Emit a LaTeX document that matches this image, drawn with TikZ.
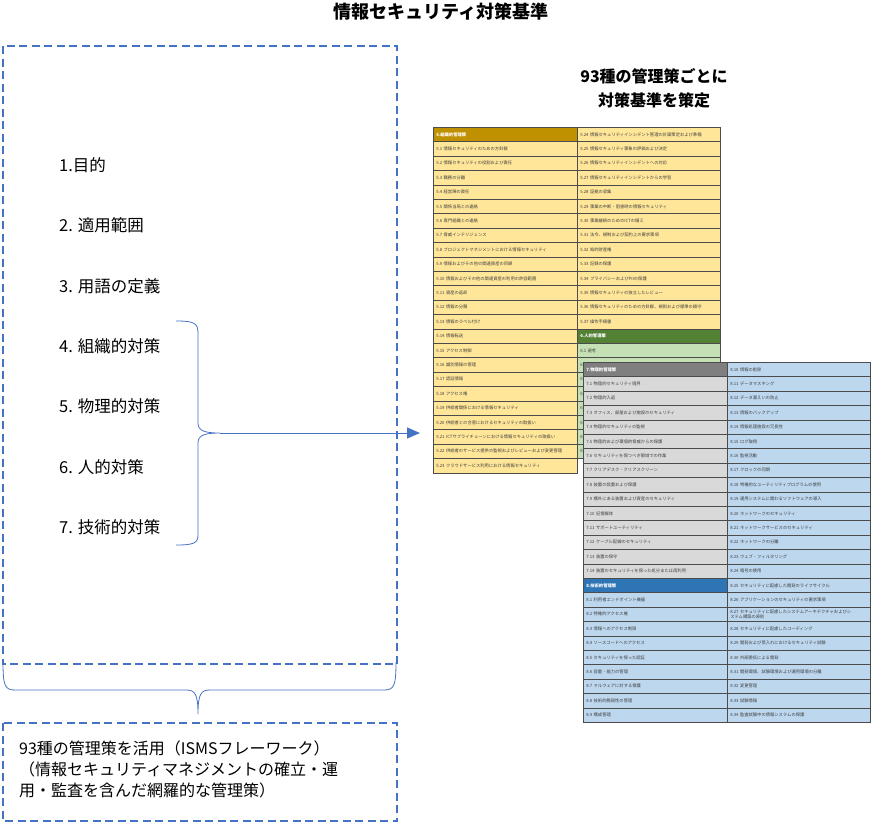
\documentclass[tikz,border=0pt]{standalone}
\usepackage{fontspec}
\setmainfont{Noto Sans CJK JP}
\usepackage{xcolor}
\usetikzlibrary{arrows.meta}

\definecolor{boxblue}{HTML}{4472C4}
\definecolor{goldhead}{HTML}{BF9000}
\definecolor{yellowcell}{HTML}{FFE699}
\definecolor{greenhead}{HTML}{548235}
\definecolor{greencell}{HTML}{C5E0B4}
\definecolor{greyhead}{HTML}{7F7F7F}
\definecolor{greycell}{HTML}{D9D9D9}
\definecolor{bluehead}{HTML}{2E75B6}
\definecolor{bluecell}{HTML}{BDD7EE}

\tikzset{
  dashbox/.style={draw=boxblue, line width=2pt, dash pattern=on 8pt off 4.5pt},
  braceline/.style={draw=boxblue, line width=0.8pt},
  item/.style={anchor=west, inner sep=0pt, font=\fontsize{16.5}{20}\selectfont},
  cellA/.style={draw=black!70, line width=0.5pt, anchor=north west,
    minimum height=14.4pt, inner xsep=3pt, inner ysep=0pt,
    text width=138pt, align=left, text=black!75,
    font=\fontsize{4.3}{5}\selectfont},
  cellB/.style={cellA, text width=137pt},
  headA/.style={cellA, text=white, font=\fontsize{4.3}{5}\bfseries\selectfont},
  headB/.style={cellB, text=white, font=\fontsize{4.3}{5}\bfseries\selectfont},
}

\begin{document}
\begin{tikzpicture}[x=1pt, y=-1pt]
    \useasboundingbox (0,0) rectangle (871,823);

    % 标题
    \node[font=\fontsize{18}{20}\bfseries\selectfont] (title) at (441,12) {情報セキュリティ対策基準};
    \node[font=\fontsize{16}{24}\bfseries\selectfont, align=center] (head) at (654,88)
        {93種の管理策ごとに\\対策基準を策定};

    % 左侧虚线框
    \draw[dashbox] (3,46) rectangle (397,664);
    \draw[dashbox] (3,723) rectangle (397,821);

    % 项目
    \node[item] (i1) at (59,165) {1.目的};
    \node[item] (i2) at (59,225) {2. 適用範囲};
    \node[item] (i3) at (59,286) {3. 用語の定義};
    \node[item] (i4) at (59,346) {4. 組織的対策};
    \node[item] (i5) at (59,406) {5. 物理的対策};
    \node[item] (i6) at (59,467) {6. 人的対策};
    \node[item] (i7) at (59,527) {7. 技術的対策};

    \node[anchor=north west, inner sep=0pt, align=left,
          font=\fontsize{16}{21}\selectfont] (isms) at (19,741)
        {93種の管理策を活用（ISMSフレーワーク）\\
         （情報セキュリティマネジメントの確立・運\\
         用・監査を含んだ網羅的な管理策）};

    % 表1：組織的管理策・人的管理策
    \node[headA, fill=goldhead] (o0) at (433,127) {5.組織的管理策};
    \foreach \t [count=\i] in {5.1 情報セキュリティのための方針群,
        5.2 情報セキュリティの役割および責任, 5.3 職務の分離, 5.4 経営陣の責任,
        5.5 関係当局との連絡, 5.6 専門組織との連絡, 5.7 脅威インテリジェンス,
        5.8 プロジェクトマネジメントにおける情報セキュリティ,
        5.9 情報およびその他の関連資産の目録,
        5.10 情報およびその他の関連資産の利用の許容範囲, 5.11 資産の返却,
        5.12 情報の分類, 5.13 情報のラベル付け, 5.14 情報転送, 5.15 アクセス制御,
        5.16 識別情報の管理, 5.17 認証情報, 5.18 アクセス権,
        5.19 供給者関係における情報セキュリティ,
        5.20 供給者との合意におけるセキュリティの取扱い,
        5.21 ICTサプライチェーンにおける情報セキュリティの取扱い,
        5.22 供給者のサービス提供の監視およびレビューおよび変更管理,
        5.23 クラウドサービス利用における情報セキュリティ}
        \node[cellA, fill=yellowcell] (o\i) at (433,{127+\i*14.4}) {\t};

    \foreach \t [count=\i from 0] in {5.24 情報セキュリティインシデント管理の計画策定および準備,
        5.25 情報セキュリティ事象の評価および決定, 5.26 情報セキュリティインシデントへの対応,
        5.27 情報セキュリティインシデントからの学習, 5.28 証拠の収集,
        5.29 事業の中断・阻害時の情報セキュリティ, 5.30 事業継続のためのICTの備え,
        5.31 法令、規制および契約上の要求事項, 5.32 知的財産権, 5.33 記録の保護,
        5.34 プライバシーおよびPIIの保護, 5.35 情報セキュリティの独立したレビュー,
        5.36 情報セキュリティのための方針群、規則および標準の順守, 5.37 操作手順書}
        \node[cellB, fill=yellowcell] (p\i) at (577,{127+\i*14.4}) {\t};
    \node[headB, fill=greenhead] (h0) at (577,{127+14*14.4}) {6.人的管理策};
    \foreach \t [count=\i] in {6.1 選考, 6.2 雇用条件, 6.3 情報セキュリティの意識向上、教育および訓練,
        6.4 懲戒手続, 6.5 雇用の終了または変更後の責任, 6.6 秘密保持契約または守秘義務契約,
        6.7 リモートワーク, 6.8 情報セキュリティ事象の報告}
        \node[cellB, fill=greencell] (h\i) at (577,{127+(14+\i)*14.4}) {\t};

    % 表2：物理的管理策・技術的管理策
    \node[headA, fill=greyhead] (f0) at (583,362) {7.物理的管理策};
    \foreach \t [count=\i] in {7.1 物理的セキュリティ境界, 7.2 物理的入退,
        7.3 オフィス、部屋および施設のセキュリティ, 7.4 物理的セキュリティの監視,
        7.5 物理的および環境的脅威からの保護, 7.6 セキュリティを保つべき領域での作業,
        7.7 クリアデスク・クリアスクリーン, 7.8 装置の設置および保護,
        7.9 構外にある装置および資産のセキュリティ, 7.10 記憶媒体,
        7.11 サポートユーティリティ, 7.12 ケーブル配線のセキュリティ, 7.13 装置の保守,
        7.14 装置のセキュリティを保った処分または再利用}
        \node[cellA, fill=greycell] (f\i) at (583,{362+\i*14.4}) {\t};
    \node[headA, fill=bluehead] (t0) at (583,{362+15*14.4}) {8.技術的管理策};
    \foreach \t [count=\i] in {8.1 利用者エンドポイント機器, 8.2 特権的アクセス権,
        8.3 情報へのアクセス制限, 8.4 ソースコードへのアクセス, 8.5 セキュリティを保った認証,
        8.6 容量・能力の管理, 8.7 マルウェアに対する保護, 8.8 技術的脆弱性の管理, 8.9 構成管理}
        \node[cellA, fill=bluecell] (t\i) at (583,{362+(15+\i)*14.4}) {\t};

    \foreach \t [count=\i from 0] in {8.10 情報の削除, 8.11 データマスキング,
        8.12 データ漏えいの防止, 8.13 情報のバックアップ, 8.14 情報処理施設の冗長性,
        8.15 ログ取得, 8.16 監視活動, 8.17 クロックの同期,
        8.18 特権的なユーティリティプログラムの使用,
        8.19 運用システムに関わるソフトウェアの導入, 8.20 ネットワークのセキュリティ,
        8.21 ネットワークサービスのセキュリティ, 8.22 ネットワークの分離,
        8.23 ウェブ・フィルタリング, 8.24 暗号の使用,
        8.25 セキュリティに配慮した開発のライフサイクル,
        8.26 アプリケーションのセキュリティの要求事項,
        {8.27 セキュリティに配慮したシステムアーキテクチャおよびシ\\ステム構築の原則},
        8.28 セキュリティに配慮したコーディング,
        8.29 開発および受入れにおけるセキュリティ試験, 8.30 外部委託による開発,
        8.31 開発環境、試験環境および運用環境の分離, 8.32 変更管理, 8.33 試験情報,
        8.34 監査試験中の情報システムの保護}
        \node[cellB, fill=bluecell] (u\i) at (727,{362+\i*14.4}) {\t};

    % 括弧和箭头
    \coordinate (tip) at (220,433);
    \coordinate (arrowend) at (420,433);
    \draw[braceline] (176,321) .. controls (194,321) and (198,323) .. (198,333)
        -- (198,423) .. controls (198,431) and (205,433) .. (tip)
        .. controls (205,433) and (198,435) .. (198,443)
        -- (198,535) .. controls (198,543) and (194,545) .. (176,545);
    \draw[braceline, line width=1pt, -{Triangle[length=13pt,width=11pt]}] (tip) -- (arrowend);

    \coordinate (tipdown) at (198,714);
    \draw[braceline] (3,662) .. controls (3,686) and (5,690) .. (15,690)
        -- (186,690) .. controls (195,690) and (198,694) .. (tipdown)
        .. controls (198,694) and (201,690) .. (210,690)
        -- (384,690) .. controls (394,690) and (396,686) .. (396,662);

\end{tikzpicture}
\end{document}
